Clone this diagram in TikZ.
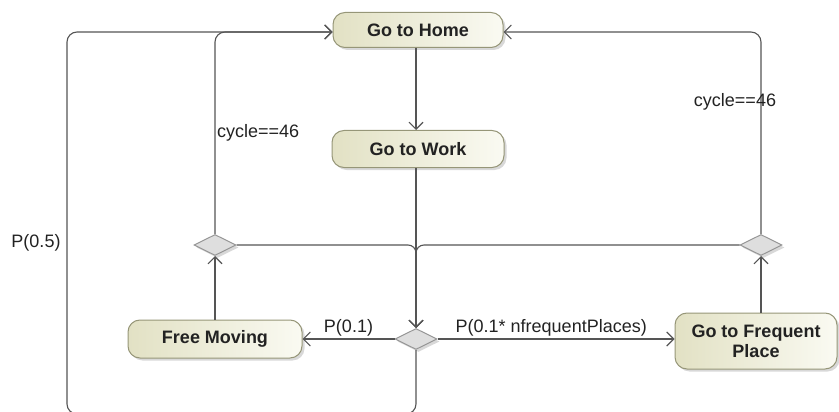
\documentclass[tikz,border=0pt]{standalone}
\usepackage{fontspec}
\setmainfont{Liberation Sans}
\usetikzlibrary{arrows.meta,shapes.geometric,shadows}

\definecolor{flowline}{RGB}{85,85,85}
\definecolor{stateedge}{RGB}{150,150,120}
\definecolor{stateleft}{RGB}{226,225,196}
\definecolor{stateright}{RGB}{250,250,242}
\definecolor{decfill}{RGB}{222,222,222}
\definecolor{decedge}{RGB}{150,150,150}
\definecolor{txt}{RGB}{34,34,34}

\begin{document}
\begin{tikzpicture}[x=1pt,y=-1pt,
  state/.style={draw=stateedge, line width=1pt, rounded corners=12pt,
    left color=stateleft, right color=stateright,
    drop shadow={shadow xshift=2.5pt, shadow yshift=-2.5pt, fill=black!30},
    text=txt, font=\fontsize{18}{20}\selectfont\bfseries, align=center,
    inner sep=2pt},
  decision/.style={diamond, draw=decedge, line width=1pt, fill=decfill,
    minimum width=42pt, minimum height=21pt, inner sep=0pt, aspect=2,
    drop shadow={shadow xshift=2.5pt, shadow yshift=-2.5pt, fill=black!30}},
  flow/.style={draw=flowline, line width=1.1pt,
    -{Straight Barb[length=7pt,width=14pt]}},
  guard/.style={text=txt, font=\fontsize{18}{20}\selectfont, inner sep=2pt}
]
\useasboundingbox (0,0) rectangle (839,412);

% states
\node[state, minimum width=170pt, minimum height=35pt] (home) at (418,30) {Go to Home};
\node[state, minimum width=172pt, minimum height=37pt] (work) at (418,149) {Go to Work};
\node[state, minimum width=174pt, minimum height=38pt] (free) at (215,339) {Free Moving};
\node[state, minimum width=162pt, minimum height=56pt] (freq) at (756,341) {Go to Frequent\\Place};

% decisions
\node[decision] (dl) at (215,245) {};
\node[decision] (dr) at (761,245) {};
\node[decision] (dc) at (416,339) {};

% corners of the outer loop (bottom edge lies just below the page)
\coordinate (loopbl) at (67,414);
\coordinate (looptl) at (67,32);
\coordinate (loopbr) at (416,414);

% main chain
\draw[flow] (home.south -| dc) -- (work.north -| dc);
\draw[flow] (work.south -| dc) -- (dc.north);
\draw[flow, rounded corners=8pt] (dl.east) -| (dc.north);
\draw[flow, rounded corners=8pt] (dr.west) -| (dc.north);

% branches of the central decision
\draw[flow] (dc.west) -- node[guard, above, pos=0.5] {P(0.1)} (free.east |- dc.west);
\draw[flow] (dc.east) -- node[guard, above, pos=0.48] {P(0.1* nfrequentPlaces)} (freq.west |- dc.east);
\draw[flow, rounded corners=10pt] (dc.south) -- (loopbr) -- (loopbl) -- (looptl) -- (home.west |- looptl);
\node[guard] (p05) at (36,243) {P(0.5)};

% back to home
\draw[flow] (free.north) -- (dl.south);
\draw[flow, rounded corners=10pt] (dl.north) |- (home.west |- looptl);
\node[guard, anchor=west] (cl) at (215,133) {cycle==46};

\draw[flow] (dr.south |- freq.north) -- (dr.south);
\draw[flow, rounded corners=10pt] (dr.north) |- (home.east |- looptl);
\node[guard] (cr) at (735,102) {cycle==46};
\end{tikzpicture}
\end{document}
